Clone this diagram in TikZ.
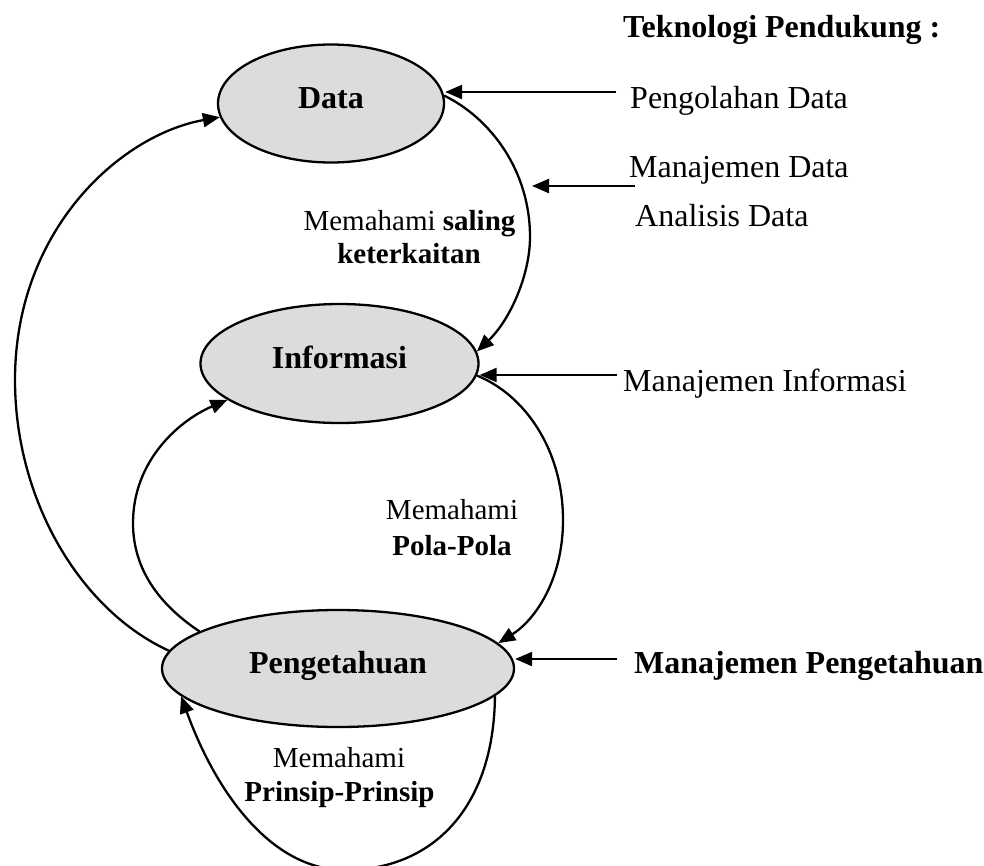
\documentclass[tikz,border=0pt]{standalone}
\usepackage{fontspec}
\setmainfont{Liberation Serif}
\usetikzlibrary{arrows.meta,shapes.geometric}
\definecolor{ellfill}{HTML}{DCDCDC}
\tikzset{
  txt/.style={inner sep=0pt, font=\fontsize{32}{38}\selectfont},
  lbl/.style={inner sep=0pt, font=\fontsize{29}{34}\selectfont},
  ell/.style={ellipse, draw, line width=2.3pt, fill=ellfill, inner sep=0pt,
    text height=21pt, text depth=12pt, font=\fontsize{32}{38}\selectfont\bfseries},
  conn/.style={line width=2.3pt, -{Triangle[length=17pt,width=14pt]}},
}
\begin{document}
\begin{tikzpicture}[x=1pt,y=-1pt]
\useasboundingbox (0,0) rectangle (984,865);
\clip (0,0) rectangle (984,865);

% ellipses
\node[ell, minimum width=226pt, minimum height=118pt] (data) at (331,103.5) {Data};
\node[ell, minimum width=278pt, minimum height=119pt] (info) at (339.5,363.5) {Informasi};
\node[ell, minimum width=352pt, minimum height=117pt] (peng) at (338,668.5) {Pengetahuan};

% right-side texts
\node[txt, anchor=base west, font=\fontsize{32}{38}\selectfont\bfseries] (tek) at (623,37) {Teknologi Pendukung :};
\node[txt, anchor=base west] (pold) at (630,108) {Pengolahan Data};
\node[txt, anchor=base west] (mand) at (629,177) {Manajemen Data};
\node[txt, anchor=base west] (anad) at (635,226) {Analisis Data};
\node[txt, anchor=base west] (mani) at (623,391) {Manajemen Informasi};
\node[txt, anchor=base west, font=\fontsize{32}{38}\selectfont\bfseries] (manp) at (634,673) {Manajemen Pengetahuan};

% curve labels
\node[lbl, anchor=base] (l1a) at (409.5,230) {Memahami \textbf{saling}};
\node[lbl, anchor=base] (l1b) at (409,263) {\textbf{keterkaitan}};
\node[lbl, anchor=base] (l2a) at (452,519) {Memahami};
\node[lbl, anchor=base] (l2b) at (452,555) {\textbf{Pola-Pola}};
\node[lbl, anchor=base] (l3a) at (339,767) {Memahami};
\node[lbl, anchor=base] (l3b) at (339.5,801) {\textbf{Prinsip-Prinsip}};

% horizontal arrows
\coordinate (pdS) at (616,92);
\coordinate (mdS) at (635,186);
\coordinate (mdE) at (532,186);
\coordinate (miS) at (617,375);
\coordinate (mpS) at (617,659);
\draw[conn] (pdS) -- (pdS -| data.east);
\draw[conn] (mdS) -- (mdE);
\draw[conn] (miS) -- (miS -| info.east);
\draw[conn] (mpS) -- (mpS -| peng.east);

% curved connectors
\draw[conn] (data.4) .. controls (490,118) and (530,170) .. (530,237)
  .. controls (530,275) and (510,320) .. (info.5);
\draw[conn] (info.-5) .. controls (525,395) and (563,450) .. (563,520)
  .. controls (563,580) and (535,620) .. (peng.9);
\draw[conn] (peng.165) .. controls (160,605) and (133,570) .. (133,523)
  .. controls (133,460) and (180,420) .. (info.198);
\draw[conn] (peng.174) .. controls (80,610) and (15,500) .. (15,380)
  .. controls (15,230) and (120,135) .. (data.187);
\draw[conn] (peng.-10) .. controls (494,805) and (435,870) .. (345,870)
  .. controls (270,870) and (215,790) .. (peng.190);
\end{tikzpicture}
\end{document}
